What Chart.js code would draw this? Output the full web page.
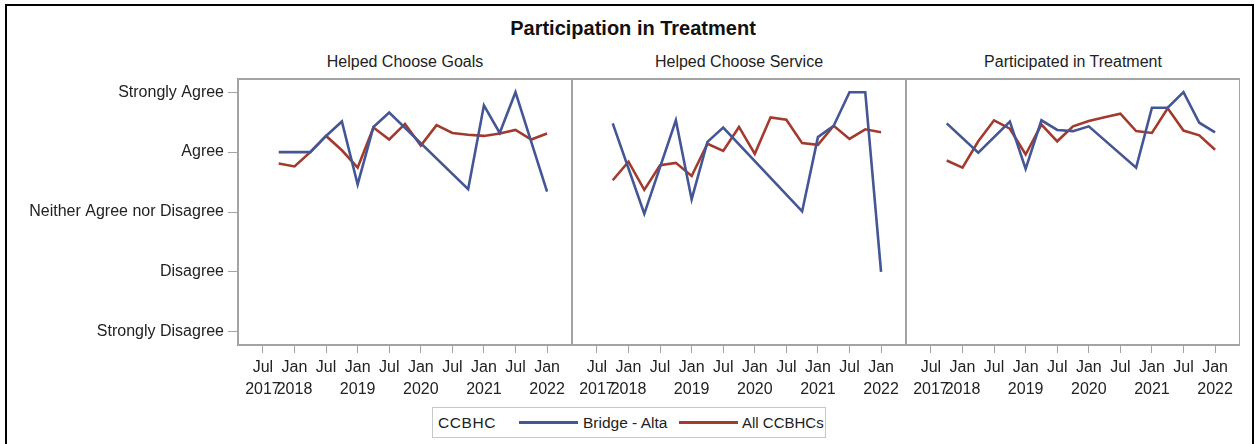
<!DOCTYPE html>
<html><head><meta charset="utf-8">
<script src="https://cdn.jsdelivr.net/npm/chart.js@4.4.1/dist/chart.umd.min.js"></script>
<style>
html,body{margin:0;padding:0;background:#fff;overflow:hidden;width:1257px;height:444px;}
body{position:relative;font-family:"Liberation Sans",Arial,sans-serif;color:#222;}
.abs{position:absolute;}
#frame{left:5px;top:4px;width:1245px;height:460px;border:2px solid #000;}
#title{left:383px;width:500px;top:15px;line-height:26px;text-align:center;font-weight:bold;font-size:20px;color:#111;}
.sub{top:52px;width:334px;line-height:20px;text-align:center;font-size:16px;white-space:nowrap;}
canvas{position:absolute;top:70px;}
#legend{left:432px;top:407px;width:392px;height:29px;border:1px solid #c8c8c8;font-size:15.5px;}
#legend .t{position:absolute;top:0;line-height:29px;white-space:nowrap;}
#legend .l{position:absolute;top:13px;height:3px;width:59px;}
</style></head>
<body>
<div id="frame" class="abs"></div>
<div id="title" class="abs">Participation in Treatment</div>
<div class="abs sub" id="sub0" style="left:238px"></div>
<div class="abs sub" id="sub1" style="left:572px"></div>
<div class="abs sub" id="sub2" style="left:906px"></div>
<canvas id="c0" width="572" height="335" style="left:0px"></canvas>
<canvas id="c1" width="334" height="335" style="left:572px"></canvas>
<canvas id="c2" width="334" height="335" style="left:906px"></canvas>
<div id="legend" class="abs">
  <span class="t" style="left:5px;letter-spacing:0.6px">CCBHC</span>
  <span class="l" style="left:86px;background:#445694"></span>
  <span class="t" style="left:150px" id="lg1"></span>
  <span class="l" style="left:246px;background:#A23A2E"></span>
  <span class="t" style="left:309px;font-size:15px" id="lg2"></span>
</div>
<script>
// ---- data ----
const panelTitles = ['Helped Choose Goals', 'Helped Choose Service', 'Participated in Treatment'];
const seriesNames = ['Bridge - Alta', 'All CCBHCs'];
const quarters = ['2017-10','2018-01','2018-04','2018-07','2018-10','2019-01','2019-04','2019-07','2019-10',
                  '2020-01','2020-04','2020-07','2020-10','2021-01','2021-04','2021-07','2021-10','2022-01'];
const yLabels = ['Strongly Disagree','Disagree','Neither Agree nor Disagree','Agree','Strongly Agree'];
const tickDates = ['2017-07','2018-01','2018-07','2019-01','2019-07','2020-01','2020-07','2021-01','2021-07','2022-01'];
const tickLine1 = ['Jul','Jan','Jul','Jan','Jul','Jan','Jul','Jan','Jul','Jan'];
const tickLine2 = ['2017','2018','','2019','','2020','','2021','','2022'];

const goalsBridge   = [4.00,4.00,4.00,4.27,4.51,3.46,4.42,4.66,null,null,null,null,3.38,4.78,4.32,5.00,null,3.34];
const goalsAll      = [3.81,3.76,4.00,4.27,4.03,3.74,4.41,4.21,4.47,4.11,4.45,4.32,4.29,4.27,4.31,4.37,4.21,4.31];
const serviceBridge = [4.48,null,2.97,null,4.53,3.21,4.17,4.41,null,null,null,null,3.01,4.25,4.44,5.00,5.00,2.00];
const serviceAll    = [3.53,3.84,3.37,3.78,3.82,3.60,4.14,4.02,4.42,3.97,4.58,4.54,4.15,4.12,4.44,4.22,4.38,4.33];
const partBridge    = [4.48,null,3.99,null,4.51,3.72,4.53,4.37,4.35,4.43,null,null,3.74,4.74,4.74,5.00,4.49,4.33];
const partAll       = [3.86,3.74,4.18,4.53,4.39,3.96,4.46,4.18,4.43,4.52,4.58,4.64,4.35,4.32,4.73,4.36,4.28,4.04];

// ---- rendering ----
const FONT = '"Liberation Sans", Arial, sans-serif';
const BLUE = '#445694', RED = '#A23A2E', AXIS = '#a3a3a3';
function monthIndex(s){ const p = s.split('-').map(Number); return (p[0]-2017)*12 + (p[1]-1); }
const tickValues = tickDates.map(monthIndex);

document.getElementById('lg1').textContent = seriesNames[0];
document.getElementById('lg2').textContent = seriesNames[1];
panelTitles.forEach((t,i)=>{ document.getElementById('sub'+i).textContent = t; });

const framePlugin = {
  id: 'panelFrame',
  afterDraw(chart){
    const a = chart.chartArea, ctx = chart.ctx;
    ctx.save();
    ctx.strokeStyle = AXIS; ctx.lineWidth = 2;
    ctx.strokeRect(a.left, a.top, a.right - a.left, a.bottom - a.top);
    ctx.restore();
  }
};

function makePanel(id, bridge, all, showY){
  const toPts = vals => quarters.map((q,i)=>({x: monthIndex(q), y: vals[i]}));
  new Chart(document.getElementById(id), {
    type: 'line',
    data: { datasets: [
      { label: seriesNames[0], data: toPts(bridge), borderColor: BLUE, backgroundColor: BLUE, spanGaps: true },
      { label: seriesNames[1], data: toPts(all), borderColor: RED, backgroundColor: RED, spanGaps: true }
    ]},
    options: {
      responsive: false, animation: false, devicePixelRatio: 1,
      layout: { padding: { top: 9, left: 0, right: 0, bottom: 0 } },
      plugins: { legend: { display: false }, tooltip: { enabled: false }, title: { display: false } },
      elements: { point: { radius: 0 }, line: { borderWidth: 2.6, tension: 0 } },
      scales: {
        x: {
          type: 'linear', min: 1.26, max: 64.74,
          afterBuildTicks: s => { s.ticks = tickValues.map(v => ({ value: v })); },
          afterFit: s => { s.height = 60; s.paddingLeft = 0; s.paddingRight = 0; },
          ticks: { autoSkip: false, maxRotation: 0, minRotation: 0, padding: 4, color: '#222',
                   font: { size: 16, family: FONT, lineHeight: 1.35 },
                   callback: (v, i) => [tickLine1[i], tickLine2[i]] },
          grid: { drawOnChartArea: false, drawTicks: true, tickLength: 8, color: AXIS, lineWidth: 1 },
          border: { display: false }
        },
        y: {
          min: 0.78, max: 5.22, display: showY,
          afterBuildTicks: s => { s.ticks = yLabels.map((_, i) => ({ value: i + 1 })); },
          afterFit: s => { if (showY) s.width = 238; s.paddingTop = 0; s.paddingBottom = 0; },
          ticks: { autoSkip: false, padding: 4, color: '#222', font: { size: 16, family: FONT },
                   callback: v => yLabels[Math.round(v) - 1] },
          grid: { drawOnChartArea: false, drawTicks: true, tickLength: 10, color: AXIS, lineWidth: 1 },
          border: { display: false }
        }
      }
    },
    plugins: [framePlugin]
  });
}
makePanel('c0', goalsBridge, goalsAll, true);
makePanel('c1', serviceBridge, serviceAll, false);
makePanel('c2', partBridge, partAll, false);
</script>
</body></html>
